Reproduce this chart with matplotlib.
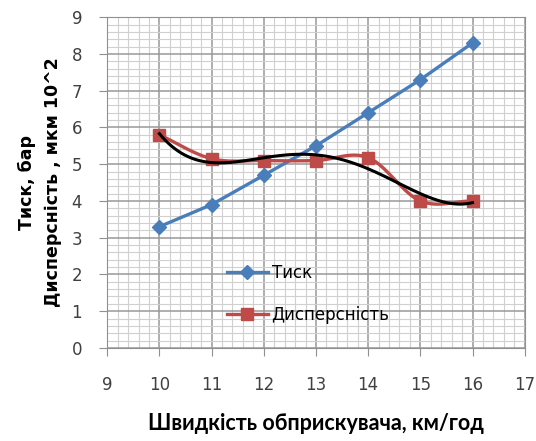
import numpy as np
import matplotlib
matplotlib.use("Agg")
import matplotlib.pyplot as plt
from matplotlib.ticker import MultipleLocator

speed = [10, 11, 12, 13, 14, 15, 16]
tysk = [3.3, 3.9, 4.7, 5.5, 6.4, 7.3, 8.3]
dispersion = [5.8, 5.15, 5.1, 5.1, 5.18, 4.0, 4.0]


def smooth(x, y, n=20):
    # catmull-rom like excel "smoothed line"
    x = np.asarray(x, float)
    y = np.asarray(y, float)
    px = np.concatenate([[2 * x[0] - x[1]], x, [2 * x[-1] - x[-2]]])
    py = np.concatenate([[2 * y[0] - y[1]], y, [2 * y[-1] - y[-2]]])
    xs, ys = [], []
    for i in range(1, len(px) - 2):
        t = np.linspace(0, 1, n)
        for arr, out in ((px, xs), (py, ys)):
            p0, p1, p2, p3 = arr[i - 1], arr[i], arr[i + 1], arr[i + 2]
            out.extend(0.5 * ((2 * p1) + (-p0 + p2) * t
                              + (2 * p0 - 5 * p1 + 4 * p2 - p3) * t ** 2
                              + (-p0 + 3 * p1 - 3 * p2 + p3) * t ** 3))
    return xs, ys


fig = plt.figure(figsize=(5.36, 4.41), dpi=100)
ax = fig.add_axes([0.2, 0.211, 0.779, 0.75])

blue = "#4a7ebb"
red = "#be4b48"

ax.plot(speed, tysk, color=blue, lw=2.4, marker="D", ms=7, label="Тиск", zorder=3)
sx, sy = smooth(speed, dispersion)
ax.plot(sx, sy, color=red, lw=2.4, zorder=3)
ax.plot(speed, dispersion, ls="none", color=red, marker="s", ms=9, zorder=3)
ax.plot([], [], color=red, lw=2.4, marker="s", ms=9, label="Дисперсність")

# polynomial trend line
coef = np.polyfit(speed, dispersion, 4)
tx = np.linspace(10, 16, 200)
ax.plot(tx, np.polyval(coef, tx), color="black", lw=2.2, zorder=4)

ax.set_xlim(9, 17)
ax.set_ylim(0, 9)
ax.xaxis.set_major_locator(MultipleLocator(1))
ax.yaxis.set_major_locator(MultipleLocator(1))
ax.xaxis.set_minor_locator(MultipleLocator(0.2))
ax.yaxis.set_minor_locator(MultipleLocator(0.2))
ax.grid(which="major", color="#999999", lw=1.1)
ax.grid(which="minor", color="#d0d0d0", lw=0.8)
ax.tick_params(which="minor", length=0)
ax.tick_params(which="major", length=6, color="#909090", labelsize=12,
               labelcolor="#404040")
ax.tick_params(axis="x", pad=14)
ax.tick_params(axis="y", pad=12)
for s in ax.spines.values():
    s.set_color("#909090")

ax.set_xlabel("Швидкість обприскувача, км/год", fontsize=15.5,
              fontweight="bold", labelpad=14, family="Lato")
ax.set_ylabel("Тиск, бар\nДисперсність , мкм 10^2", fontsize=12.5,
              fontweight="bold", labelpad=7, linespacing=1.55)

ax.legend(loc="upper left", bbox_to_anchor=(0.25, 0.3), frameon=False,
          fontsize=12, labelspacing=1.45, handlelength=2.5, handletextpad=0.2)

fig.savefig("out.png", dpi=100)
